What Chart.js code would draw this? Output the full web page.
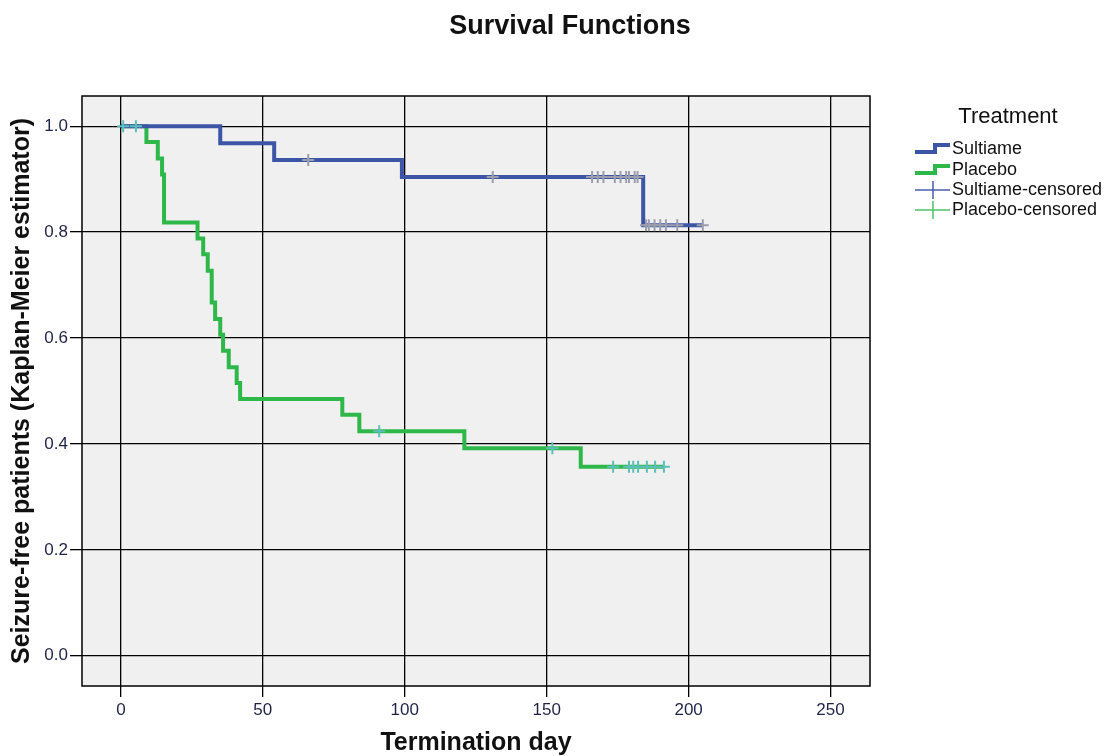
<!DOCTYPE html>
<html>
<head>
<meta charset="utf-8">
<script src="https://cdn.jsdelivr.net/npm/chart.js@4.4.1/dist/chart.umd.min.js"></script>
<style>
  body { margin: 0; background: #fff; }
  canvas { display: block; }
</style>
</head>
<body>
<canvas id="survivalChart" width="1108" height="756"></canvas>
<script>
const xTicks = [0, 50, 100, 150, 200, 250];
const yTicks = [0, 0.2, 0.4, 0.6, 0.8, 1.0];

// Kaplan-Meier steps: day of event, survival after it
const sultiameDays = [35, 54, 99, 184];
const sultiameSurv = [0.968, 0.936, 0.904, 0.813];
const sultiameCensored = [66, 131, 166, 168, 170, 174, 176, 178, 179, 181, 182, 185, 186, 188, 190, 192, 196, 205];

const placeboDays = [9, 13, 14.5, 15.2, 27, 29, 30.6, 32, 33.2, 35, 36, 38, 40.8, 42, 78, 84, 121, 162];
const placeboSurv = [0.970, 0.939, 0.909, 0.818, 0.788, 0.758, 0.727, 0.667, 0.636, 0.606, 0.576, 0.545, 0.515, 0.485, 0.455, 0.424, 0.392, 0.357];
const placeboCensored = [0.8, 5.3, 91, 152, 173.4, 179, 180.5, 182.2, 185.3, 188.2, 191.3];

const FONT = "'Liberation Sans', Arial, sans-serif";
const blue = '#3d55a7';
const green = '#2fb84a';

function stepPoints(days, surv, end) {
  const pts = [{ x: 0, y: 1 }];
  let prev = 1;
  days.forEach((d, i) => {
    pts.push({ x: d, y: prev });
    pts.push({ x: d, y: surv[i] });
    prev = surv[i];
  });
  pts.push({ x: end, y: prev });
  return pts;
}

function survAt(days, surv, t) {
  let s = 1;
  days.forEach((d, i) => { if (d <= t) s = surv[i]; });
  return s;
}

const sultiameLine = stepPoints(sultiameDays, sultiameSurv, sultiameCensored[sultiameCensored.length - 1]);
const placeboLine = stepPoints(placeboDays, placeboSurv, placeboCensored[placeboCensored.length - 1]);

const frame = {
  id: 'frame',
  beforeDraw(chart) {
    const { ctx, chartArea: a } = chart;
    ctx.save();
    ctx.fillStyle = '#f0f0f0';
    ctx.fillRect(a.left, a.top, a.right - a.left, a.bottom - a.top);
    ctx.restore();
  },
  beforeDatasetsDraw(chart) {
    const { ctx, chartArea: a } = chart;
    ctx.save();
    ctx.strokeStyle = '#000';
    ctx.lineWidth = 1.5;
    ctx.strokeRect(a.left, a.top, a.right - a.left, a.bottom - a.top);
    ctx.restore();
  },
  afterDraw(chart) {
    const ctx = chart.ctx;
    ctx.save();
    ctx.fillStyle = '#111';
    ctx.textBaseline = 'middle';
    ctx.textAlign = 'center';
    ctx.font = 'bold 27px ' + FONT;
    ctx.fillText('Survival Functions', 570, 27);

    ctx.font = '22px ' + FONT;
    ctx.fillText('Treatment', 1008, 117);

    ctx.font = '18px ' + FONT;
    ctx.textAlign = 'left';
    const items = [
      { label: 'Sultiame', color: blue, step: true, y: 149 },
      { label: 'Placebo', color: green, step: true, y: 170 },
      { label: 'Sultiame-censored', color: '#4a5db3', step: false, y: 190 },
      { label: 'Placebo-censored', color: '#4cc46a', step: false, y: 210 }
    ];
    items.forEach(it => {
      ctx.strokeStyle = it.color;
      ctx.beginPath();
      if (it.step) {
        ctx.lineWidth = 4;
        ctx.moveTo(915, it.y + 3);
        ctx.lineTo(935, it.y + 3);
        ctx.lineTo(935, it.y - 4);
        ctx.lineTo(950, it.y - 4);
      } else {
        ctx.lineWidth = 1.5;
        ctx.moveTo(915, it.y);
        ctx.lineTo(950, it.y);
        ctx.moveTo(933, it.y - 9);
        ctx.lineTo(933, it.y + 9);
      }
      ctx.stroke();
      ctx.fillStyle = '#111';
      ctx.fillText(it.label, 952, it.y);
    });
    ctx.restore();
  }
};

new Chart(document.getElementById('survivalChart'), {
  type: 'scatter',
  data: {
    datasets: [
      {
        label: 'Sultiame-censored',
        data: sultiameCensored.map(t => ({ x: t, y: survAt(sultiameDays, sultiameSurv, t) })),
        pointStyle: 'cross',
        pointRadius: 6,
        borderWidth: 2,
        borderColor: '#9d9eab',
        backgroundColor: '#9d9eab'
      },
      {
        label: 'Placebo-censored',
        data: placeboCensored.map(t => ({ x: t, y: survAt(placeboDays, placeboSurv, t) })),
        pointStyle: 'cross',
        pointRadius: 6,
        borderWidth: 2,
        borderColor: '#5bbfbb',
        backgroundColor: '#5bbfbb'
      },
      {
        label: 'Sultiame',
        data: sultiameLine,
        showLine: true,
        borderColor: blue,
        borderWidth: 4,
        pointRadius: 0,
        tension: 0
      },
      {
        label: 'Placebo',
        data: placeboLine,
        showLine: true,
        borderColor: green,
        borderWidth: 4,
        pointRadius: 0,
        tension: 0
      }
    ]
  },
  options: {
    responsive: false,
    animation: false,
    layout: { padding: { left: 0, right: 238, top: 96, bottom: 0 } },
    plugins: {
      legend: { display: false },
      tooltip: { enabled: false },
      title: { display: false }
    },
    scales: {
      x: {
        type: 'linear',
        min: -13.7,
        max: 263.9,
        afterBuildTicks: s => { s.ticks = xTicks.map(v => ({ value: v })); },
        afterFit: s => { s.height = 70; },
        grid: { color: '#000', lineWidth: 1.3, tickLength: 11, tickColor: '#000' },
        border: { display: false },
        ticks: { color: '#1f2347', padding: 3, font: { family: FONT, size: 17 } },
        title: {
          display: true,
          text: 'Termination day',
          color: '#111',
          font: { family: FONT, size: 25, weight: 'bold', lineHeight: 1 },
          padding: { top: 0, bottom: 0 }
        }
      },
      y: {
        type: 'linear',
        min: -0.057,
        max: 1.057,
        afterBuildTicks: s => { s.ticks = yTicks.map(v => ({ value: v })); },
        afterFit: s => { s.width = 82; },
        grid: { color: '#000', lineWidth: 1.3, tickLength: 12, tickColor: '#000' },
        border: { display: false },
        ticks: {
          color: '#1f2347',
          padding: 2,
          font: { family: FONT, size: 17 },
          callback: v => v.toFixed(1)
        },
        title: {
          display: true,
          text: 'Seizure-free patients (Kaplan-Meier estimator)',
          color: '#111',
          font: { family: FONT, size: 25, weight: 'bold', lineHeight: 1.2 },
          padding: { top: 7, bottom: 0 }
        }
      }
    }
  },
  plugins: [frame]
});
</script>
</body>
</html>
